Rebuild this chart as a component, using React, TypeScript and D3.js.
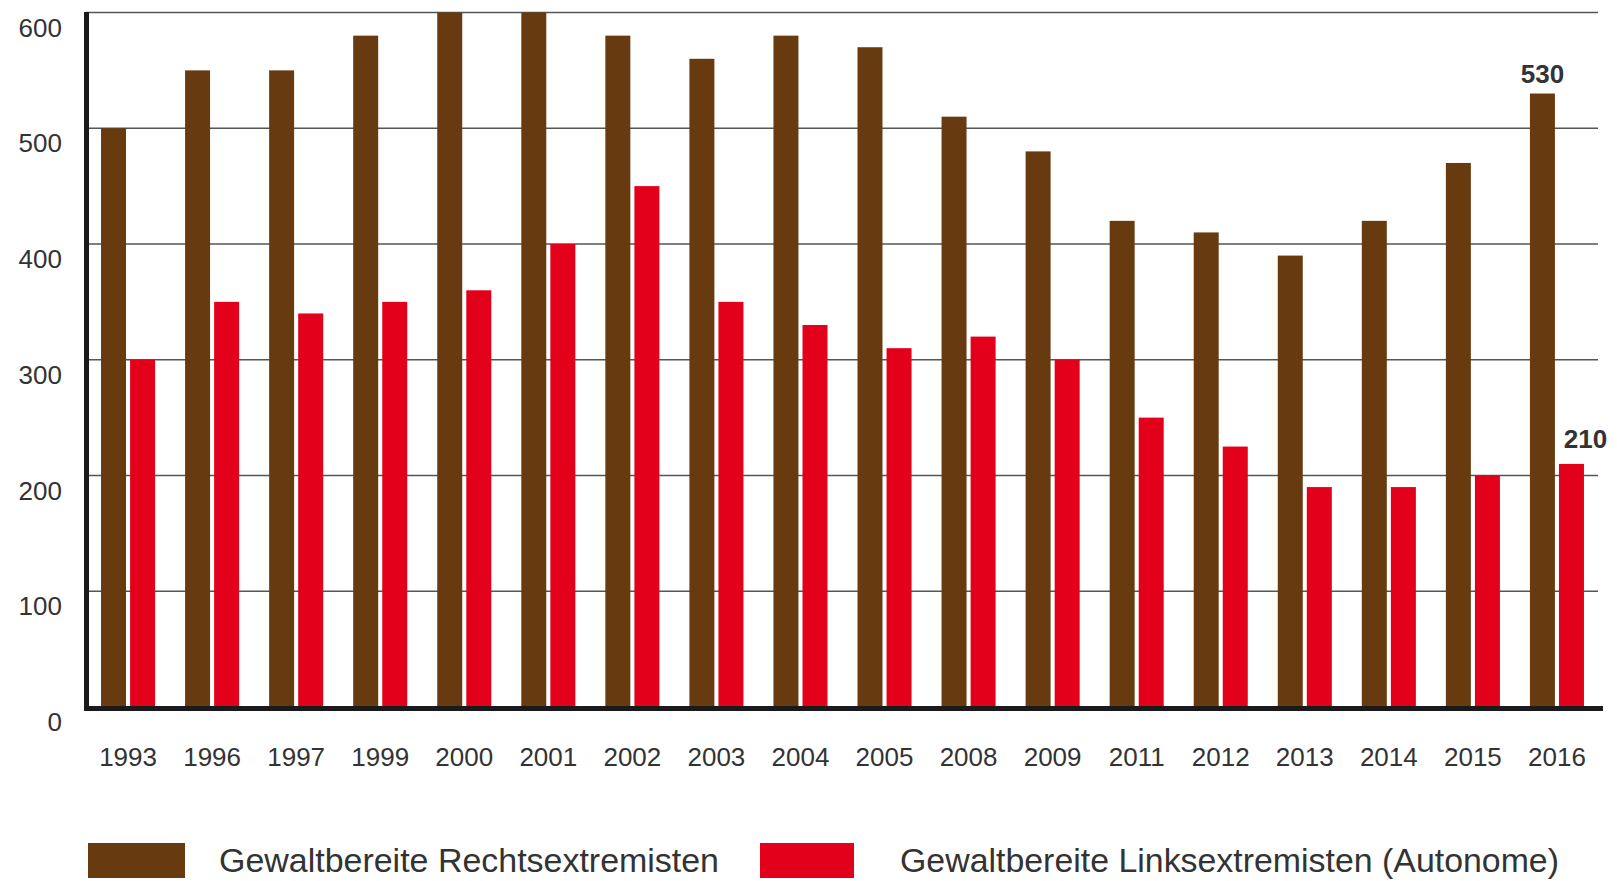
import * as d3 from 'd3';

const years = ['1993', '1996', '1997', '1999', '2000', '2001', '2002', '2003', '2004', '2005', '2008', '2009', '2011', '2012', '2013', '2014', '2015', '2016'];
const rechts = [500, 550, 550, 580, 600, 600, 580, 560, 580, 570, 510, 480, 420, 410, 390, 420, 470, 530];
const links = [300, 350, 340, 350, 360, 400, 450, 350, 330, 310, 320, 300, 250, 225, 190, 190, 200, 210];
const yTicks = [0, 100, 200, 300, 400, 500, 600];
const seriesNames = ['Gewaltbereite Rechtsextremisten', 'Gewaltbereite Linksextremisten (Autonome)'];

const W = 1617;
const H = 881;
const FONT = '"Liberation Sans", Arial, sans-serif';
const BROWN = '#673b0f';
const RED = '#e2001a';
const TEXT = '#333';

export default function App() {
    const x = d3.scaleBand().domain(years).range([88, 1597]).paddingInner(0.357).paddingOuter(0.155);
    const xs = d3.scaleBand().domain(['r', 'l']).range([0, x.bandwidth()]).paddingInner(0.14);
    const y = d3.scaleLinear().domain([0, 600]).range([707, 12.5]);

    const last = years.length - 1;
    const lastYear = years[last];

    return (
        <svg width={W} height={H} style={{position: 'absolute', left: 0, top: 0, background: '#fff'}} fontFamily={FONT}>
            {/* gridlines */}
            {yTicks.filter((t) => t > 0).map((t) => (
                <line key={t} x1={86} x2={1598} y1={y(t)} y2={y(t)} stroke="#555" strokeWidth={1.6} />
            ))}
            {/* y tick labels */}
            {yTicks.map((t) => (
                <text key={t} x={62} y={y(t) + 24} textAnchor="end" fontSize={26} fill={TEXT}>
                    {t}
                </text>
            ))}
            {/* bars */}
            {years.map((yr, i) => (
                <g key={yr} transform={`translate(${x(yr)},0)`}>
                    <rect x={xs('r')} y={y(rechts[i])} width={xs.bandwidth()} height={y(0) - y(rechts[i])} fill={BROWN} />
                    <rect x={xs('l')} y={y(links[i])} width={xs.bandwidth()} height={y(0) - y(links[i])} fill={RED} />
                </g>
            ))}
            {/* axes */}
            <line x1={86.5} x2={86.5} y1={12} y2={711} stroke="#1a1a1a" strokeWidth={5} />
            <line x1={84} x2={1603} y1={708.5} y2={708.5} stroke="#1a1a1a" strokeWidth={5} />
            {/* year labels */}
            {years.map((yr) => (
                <text key={yr} x={x(yr) + x.bandwidth() / 2} y={766} textAnchor="middle" fontSize={26} fill={TEXT}>
                    {yr}
                </text>
            ))}
            {/* value labels for last year */}
            <text
                x={x(lastYear) + xs('r') + xs.bandwidth() / 2}
                y={y(rechts[last]) - 11}
                textAnchor="middle"
                fontSize={26}
                fontWeight="bold"
                fill={TEXT}
            >
                {rechts[last]}
            </text>
            <text
                x={x(lastYear) + xs('l') + xs.bandwidth() / 2 + 14}
                y={y(links[last]) - 16}
                textAnchor="middle"
                fontSize={26}
                fontWeight="bold"
                fill={TEXT}
            >
                {links[last]}
            </text>
            {/* legend */}
            <rect x={88} y={843} width={97} height={35} fill={BROWN} />
            <text x={219} y={872} fontSize={33.5} fill={TEXT} textLength={500} lengthAdjust="spacingAndGlyphs">
                {seriesNames[0]}
            </text>
            <rect x={760} y={843} width={94} height={35} fill={RED} />
            <text x={900} y={872} fontSize={33.5} fill={TEXT} textLength={659} lengthAdjust="spacingAndGlyphs">
                {seriesNames[1]}
            </text>
        </svg>
    );
}
